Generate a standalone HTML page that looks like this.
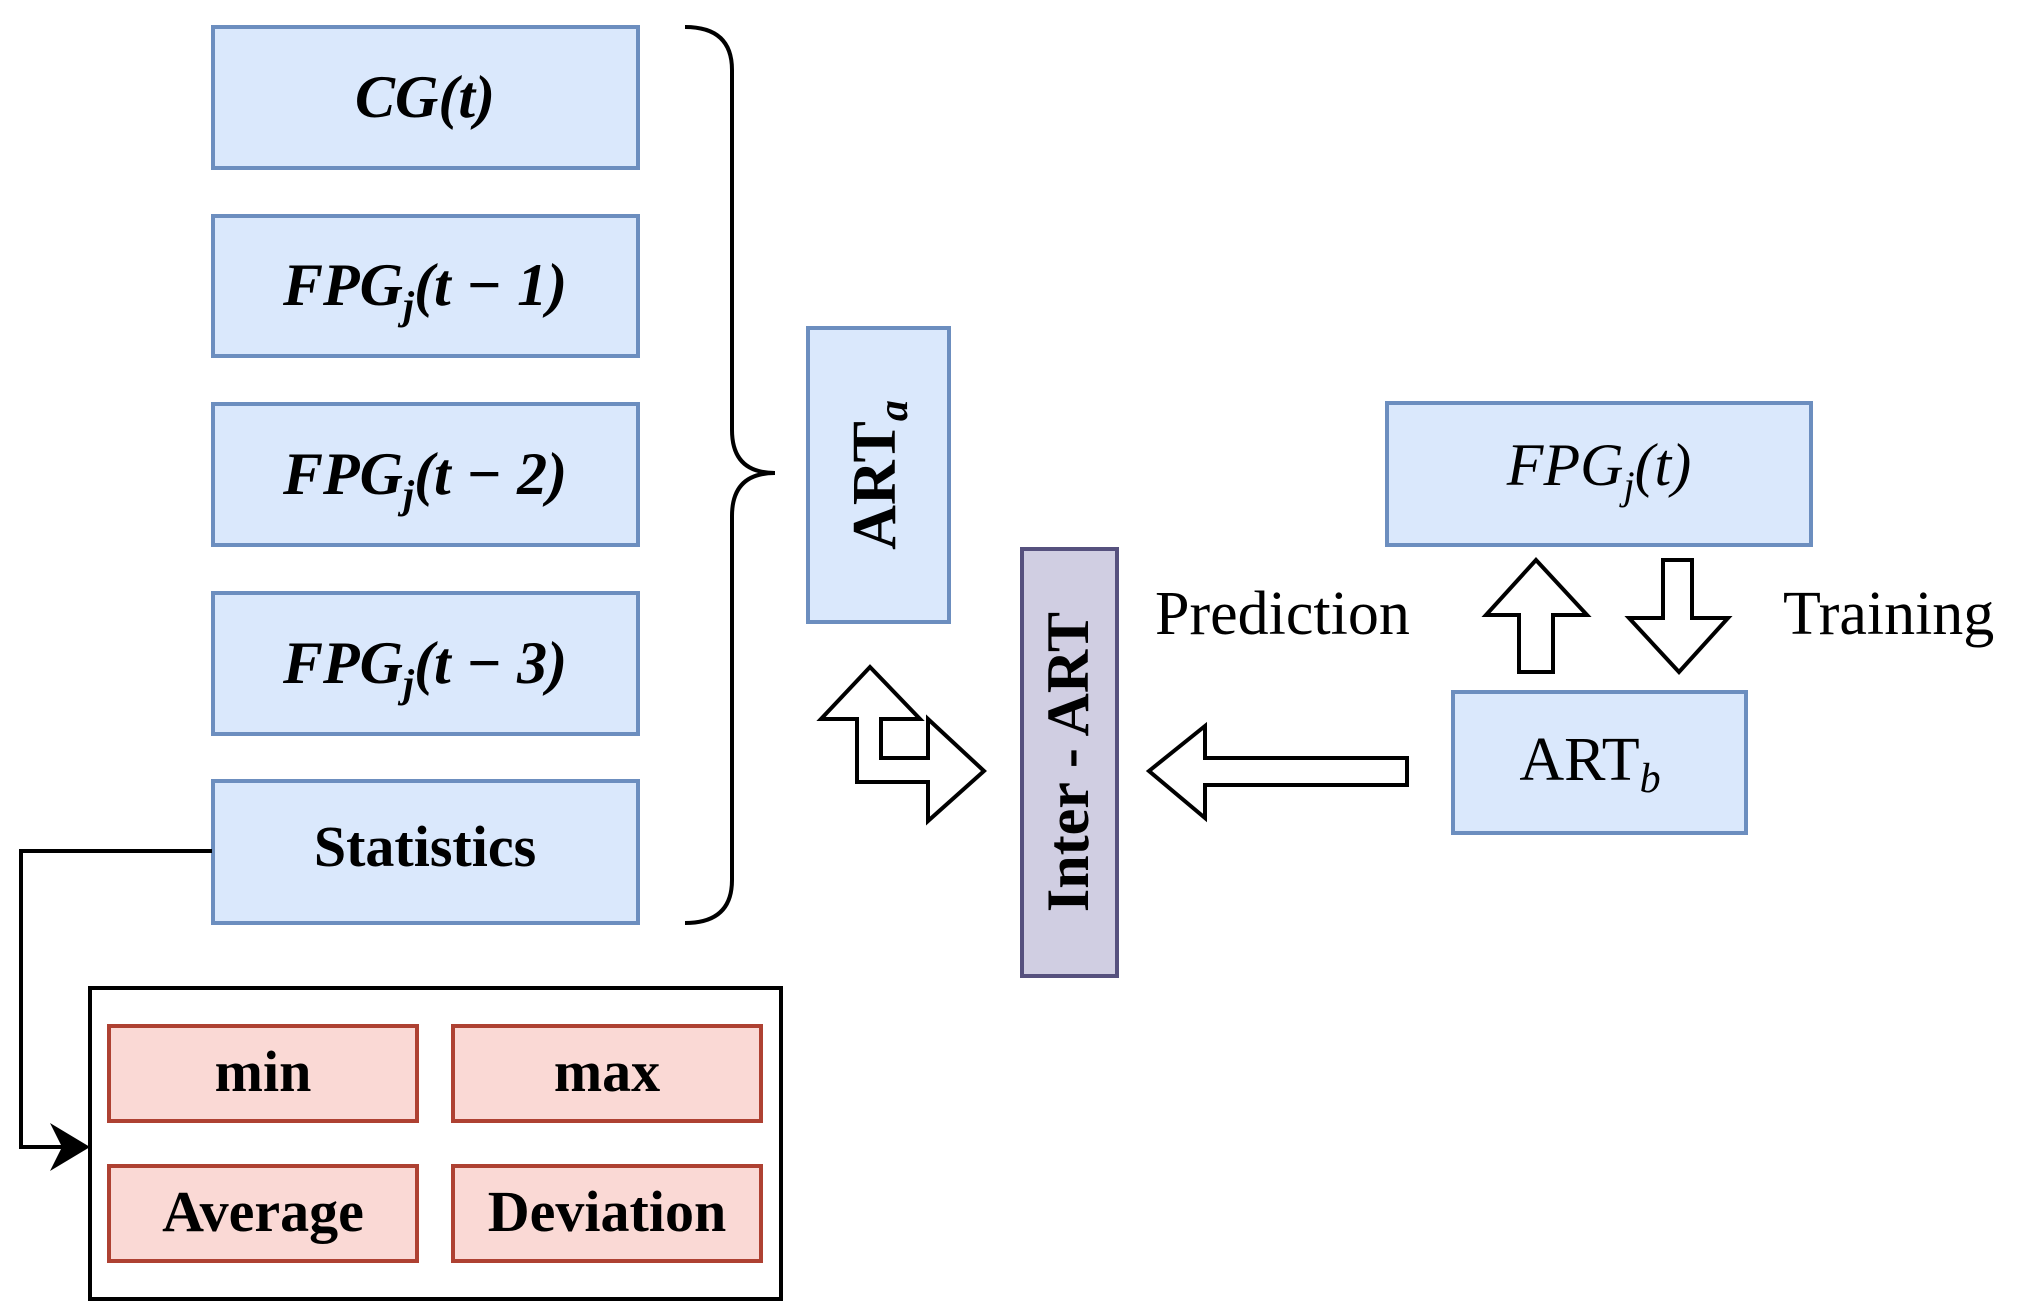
<!DOCTYPE html>
<html><head><meta charset="utf-8"><style>
body{margin:0;background:#fff}
svg text{font-family:"Liberation Serif",serif}
</style></head><body>
<svg width="2033" height="1311" viewBox="0 0 2033 1311" xmlns="http://www.w3.org/2000/svg">
<g fill="#dae8fc" stroke="#6c8ebf" stroke-width="4">
<rect x="213" y="27" width="425" height="141"/>
<rect x="213" y="216" width="425" height="140"/>
<rect x="213" y="404" width="425" height="141"/>
<rect x="213" y="593" width="425" height="141"/>
<rect x="213" y="781" width="425" height="142"/>
<rect x="808" y="328" width="141" height="294"/>
<rect x="1387" y="403" width="424" height="142"/>
<rect x="1453" y="692" width="293" height="141"/>
</g>
<rect x="1022" y="549" width="95" height="427" fill="#d0cee2" stroke="#56517e" stroke-width="4"/>
<rect x="90" y="988" width="691" height="311" fill="#fff" stroke="#000" stroke-width="4"/>
<g fill="#fad9d5" stroke="#ae4132" stroke-width="4">
<rect x="109" y="1026" width="308" height="95"/>
<rect x="453" y="1026" width="308" height="95"/>
<rect x="109" y="1166" width="308" height="95"/>
<rect x="453" y="1166" width="308" height="95"/>
</g>
<path d="M685 27 Q732 27 732 70 L732 430 Q732 473 775 473 Q732 473 732 516 L732 880 Q732 923 685 923" fill="none" stroke="#000" stroke-width="4"/>
<path d="M212 851 H21 V1147 H70" fill="none" stroke="#000" stroke-width="4"/>
<path d="M90 1147 L50 1123 L62 1147 L50 1171 Z" fill="#000"/>
<g fill="#fff" stroke="#000" stroke-width="4">
<path d="M821 719 L870 667 L920 719 L881 719 L881 758 L928 758 L928 719 L984 771 L928 821 L928 782 L857 782 L857 719 Z"/>
<path d="M1149 771 L1205 726 L1205 758 L1407 758 L1407 785 L1205 785 L1205 818 Z"/>
<path d="M1536 560 L1587 615 L1553 615 L1553 672 L1519 672 L1519 615 L1486 615 Z"/>
<path d="M1663 560 L1692 560 L1692 618 L1728 618 L1679 672 L1629 618 L1663 618 Z"/>
</g>
<g font-weight="bold" font-style="italic" font-size="60" text-anchor="middle">
<text x="425" y="117">CG(t)</text>
<text x="425" y="305">FPG<tspan font-size="40" dy="14">j</tspan><tspan dy="-14">(t − 1)</tspan></text>
<text x="425" y="494">FPG<tspan font-size="40" dy="14">j</tspan><tspan dy="-14">(t − 2)</tspan></text>
<text x="425" y="683">FPG<tspan font-size="40" dy="14">j</tspan><tspan dy="-14">(t − 3)</tspan></text>
<text x="1599" y="485" font-weight="normal">FPG<tspan font-size="40" dy="14">j</tspan><tspan dy="-14">(t)</tspan></text>
</g>
<g font-weight="bold" font-size="58" text-anchor="middle">
<text x="425" y="866">Statistics</text>
<text x="263" y="1091">min</text>
<text x="607" y="1091">max</text>
<text x="263" y="1231">Average</text>
<text x="607" y="1231">Deviation</text>
<text x="1590" y="780" font-weight="normal" font-size="62">ART<tspan font-size="42" font-style="italic" dy="12">b</tspan></text>
<text transform="translate(895 475) rotate(-90)" font-size="62">ART<tspan font-size="42" font-style="italic" dy="12">a</tspan></text>
<text transform="translate(1088 762) rotate(-90)" font-size="60">Inter - ART</text>
</g>
<text x="1155" y="634" font-size="62">Prediction</text>
<text x="1783" y="634" font-size="62">Training</text>
</svg>
</body></html>
